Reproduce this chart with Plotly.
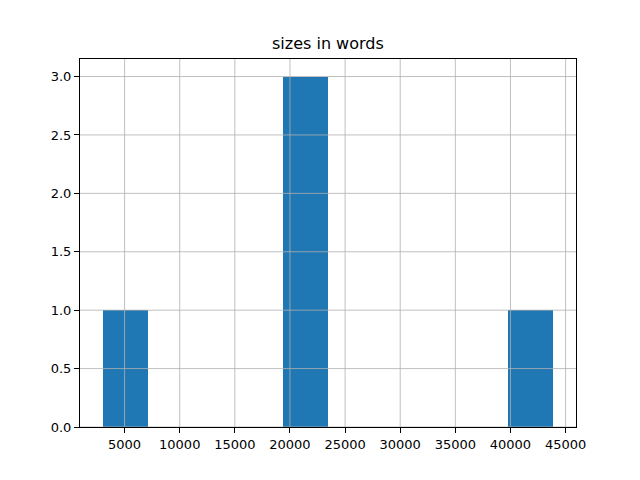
import plotly.graph_objects as go

# Histogram of "sizes in words": 10 bins between min and max
bin_edges = [3000, 7090, 11180, 15270, 19360, 23450, 27540, 31630, 35720, 39810, 43900]
counts = [1, 0, 0, 0, 3, 0, 0, 0, 0, 1]
x_ticks = [5000, 10000, 15000, 20000, 25000, 30000, 35000, 40000, 45000]
y_ticks = [0.0, 0.5, 1.0, 1.5, 2.0, 2.5, 3.0]
title = "sizes in words"

centers = [(a + b) / 2 for a, b in zip(bin_edges[:-1], bin_edges[1:])]
widths = [b - a for a, b in zip(bin_edges[:-1], bin_edges[1:])]

span = bin_edges[-1] - bin_edges[0]
x_range = [bin_edges[0] - 0.05 * span, bin_edges[-1] + 0.05 * span]
y_range = [0, max(counts) * 1.05]

fig = go.Figure()
fig.add_trace(go.Bar(x=centers, y=counts, width=widths,
                     marker=dict(color="#1f77b4", line=dict(width=0))))

shapes = []
for v in x_ticks:
    shapes.append(dict(type="line", xref="x", yref="paper", x0=v, x1=v, y0=0, y1=1,
                       line=dict(color="#b0b0b0", width=0.8), layer="above"))
for v in y_ticks:
    shapes.append(dict(type="line", xref="paper", yref="y", x0=0, x1=1, y0=v, y1=v,
                       line=dict(color="#b0b0b0", width=0.8), layer="above"))

fig.update_layout(
    width=632, height=472,
    margin=dict(l=72, r=64, t=51, b=53),
    paper_bgcolor="white", plot_bgcolor="white",
    font=dict(family="DejaVu Sans", size=13, color="black"),
    showlegend=False,
    bargap=0,
    shapes=shapes,
    annotations=[dict(text=title, xref="paper", yref="paper", x=0.5, y=1,
                      xanchor="center", yanchor="bottom", yshift=4, showarrow=False,
                      font=dict(size=16, family="DejaVu Sans", color="black"))],
)
fig.update_xaxes(range=x_range, tickvals=x_ticks, ticktext=[str(v) for v in x_ticks],
                 showgrid=False, zeroline=False, showline=True, mirror=True,
                 linecolor="black", linewidth=1, ticks="outside", ticklen=5,
                 tickcolor="black", tickfont=dict(size=13))
fig.update_yaxes(range=y_range, tickvals=y_ticks, ticktext=[f"{v:.1f}" for v in y_ticks],
                 showgrid=False, zeroline=False, showline=True, mirror=True,
                 linecolor="black", linewidth=1, ticks="outside", ticklen=5,
                 tickcolor="black", tickfont=dict(size=13))

fig.write_html("out.html")
